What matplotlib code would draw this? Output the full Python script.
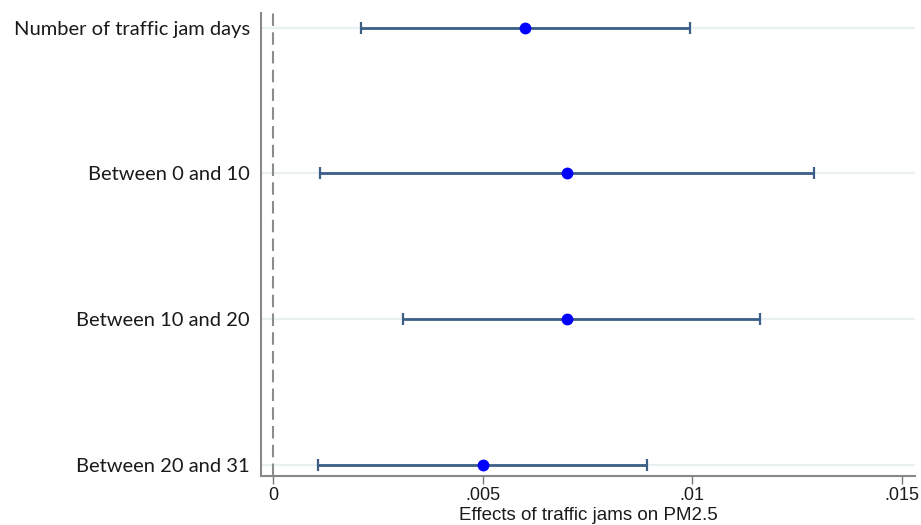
import matplotlib

matplotlib.use("Agg")
import matplotlib.pyplot as plt  # noqa: E402

labels = ["Number of traffic jam days", "Between 0 and 10", "Between 10 and 20", "Between 20 and 31"]
coef = [0.0060, 0.0070, 0.0070, 0.0050]
ci_low = [0.0021, 0.00112, 0.0031, 0.00107]
ci_high = [0.00995, 0.01289, 0.01162, 0.00893]
xticks = [0, 0.005, 0.01, 0.015]
xticklabels = ["0", ".005", ".01", ".015"]

LINE = "#3b5f86"
GRID = "#e8f0f2"

fig = plt.figure(figsize=(9.21, 5.25), dpi=100)
ax = fig.add_axes([261 / 921, 1 - 476 / 525, (915 - 261) / 921, (476 - 13) / 525])

ypos = list(range(len(labels)))[::-1]
for y in ypos:
    ax.axhline(y, color=GRID, lw=1.5, zorder=0)
ax.axvline(0, color="#8c8c8c", ls=(0, (6, 3)), lw=1.5, zorder=1)

ax.errorbar(
    coef, ypos,
    xerr=[[c - lo for c, lo in zip(coef, ci_low)], [hi - c for c, hi in zip(coef, ci_high)]],
    fmt="none", ecolor=LINE, elinewidth=2, capsize=4.5, capthick=1.6, zorder=2,
)
ax.plot(coef, ypos, "o", color="#0000ff", ms=7.5, zorder=3)

ax.set_xlim(-0.000286, 0.01531)
ax.set_ylim(-0.075, 3.1)
ax.set_yticks(ypos)
ax.set_yticklabels(labels, fontsize=14.5, family="Lato", color="#1a1a1a")
ax.tick_params(axis="y", length=0, pad=8)
ax.set_xticks(xticks)
ax.set_xticklabels(xticklabels, fontsize=13, family="Liberation Sans", color="#1a1a1a")
ax.tick_params(axis="x", length=6, width=1, color="#777777", pad=2)
ax.set_xlabel("Effects of traffic jams on PM2.5", fontsize=13.5, family="Liberation Sans",
              color="#1a1a1a", labelpad=2)

for side in ["top", "right"]:
    ax.spines[side].set_visible(False)
for side in ["left", "bottom"]:
    ax.spines[side].set_color("#888888")
    ax.spines[side].set_linewidth(1.5)

fig.savefig("out.png", dpi=100)
